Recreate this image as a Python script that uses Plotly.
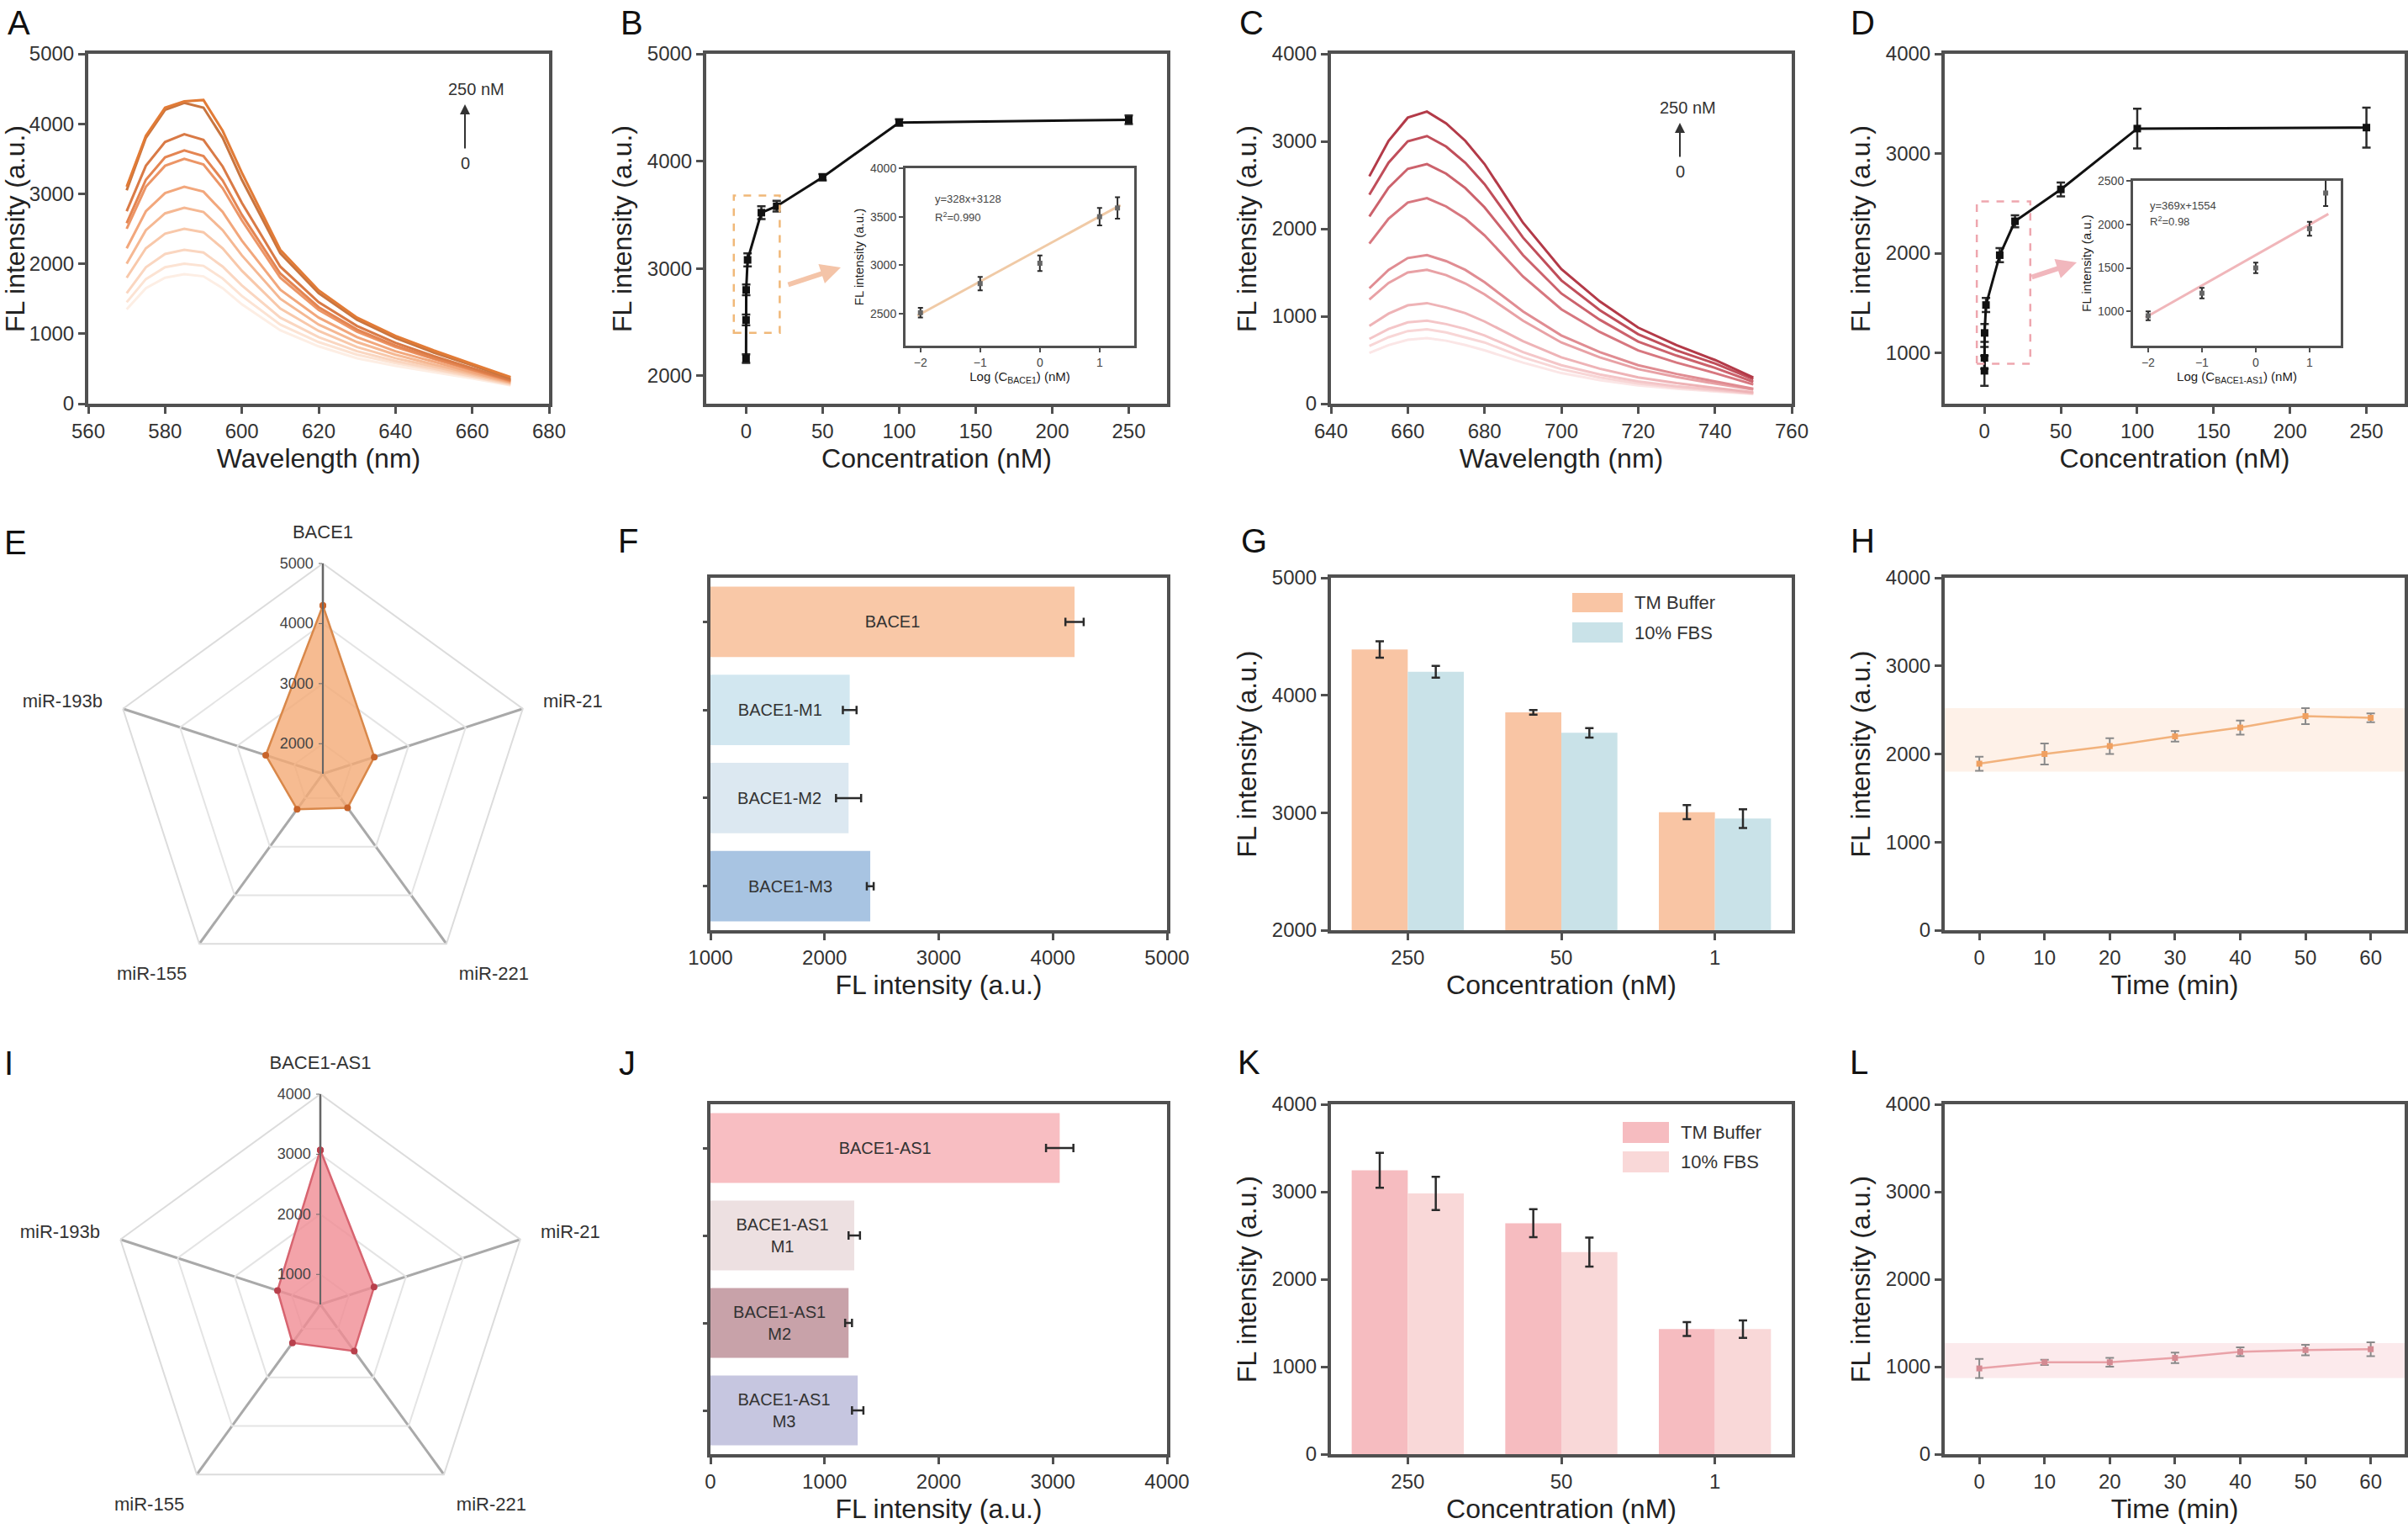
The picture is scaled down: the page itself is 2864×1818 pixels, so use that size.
import plotly.graph_objects as go

W, H = 2864, 1818
AX = '#505050'
FONT = 'Liberation Sans, Arial, sans-serif'

# ---------- A: spectra, BACE1 ----------
a_wl = [570, 575, 580, 585, 590, 595, 600, 610, 620, 630, 640, 650, 660, 670]
a_spectra = [
    [1350, 1650, 1800, 1850, 1820, 1650, 1420, 1050, 820, 650, 540, 450, 360, 260],
    [1450, 1780, 1950, 2000, 1970, 1790, 1540, 1130, 880, 700, 580, 480, 380, 270],
    [1580, 1950, 2140, 2200, 2160, 1960, 1690, 1230, 950, 750, 610, 500, 390, 280],
    [1800, 2220, 2430, 2500, 2450, 2220, 1900, 1360, 1040, 810, 650, 530, 410, 290],
    [2000, 2480, 2720, 2800, 2740, 2480, 2120, 1500, 1130, 880, 700, 560, 430, 300],
    [2220, 2750, 3010, 3100, 3030, 2740, 2330, 1630, 1230, 950, 750, 600, 450, 310],
    [2500, 3100, 3400, 3500, 3420, 3080, 2620, 1800, 1340, 1030, 810, 640, 480, 320],
    [2580, 3200, 3520, 3620, 3540, 3190, 2700, 1860, 1380, 1060, 830, 650, 490, 330],
    [2750, 3400, 3740, 3850, 3770, 3390, 2870, 1960, 1450, 1110, 870, 680, 510, 340],
    [3050, 3800, 4200, 4300, 4230, 3800, 3200, 2150, 1580, 1200, 940, 730, 550, 360],
    [3100, 3830, 4230, 4320, 4340, 3900, 3300, 2200, 1620, 1230, 970, 760, 570, 380],
]
a_colors = ['#fdeee4', '#fce3d3', '#fad6c0', '#f8c8aa', '#f5b893', '#f2a77c',
            '#ec9566', '#e48552', '#d97a46', '#c9753f', '#e27b36']

# ---------- B: BACE1 vs concentration ----------
b_conc = [0, 0.01, 0.1, 1, 10, 20, 50, 100, 250]
b_fl = [2160, 2520, 2800, 3080, 3520, 3580, 3850, 4360, 4385]
b_err = [40, 50, 50, 60, 60, 50, 30, 30, 40]
b_log = [-2, -1, 0, 1, 1.3]
b_in_fl = [2510, 2810, 3020, 3500, 3590]
b_in_err = [50, 70, 80, 90, 110]
b_fit_x = [-2.05, 1.35]
b_fit_y = [2480, 3620]

# ---------- C: spectra, BACE1-AS1 ----------
c_wl = [650, 655, 660, 665, 670, 675, 680, 690, 700, 710, 720, 730, 740, 750]
c_spectra = [
    [580, 670, 730, 750, 720, 670, 610, 470, 350, 270, 210, 170, 140, 110],
    [660, 760, 830, 850, 815, 760, 700, 530, 395, 300, 230, 185, 150, 115],
    [740, 855, 930, 950, 910, 855, 780, 590, 440, 335, 255, 200, 160, 120],
    [890, 1030, 1125, 1150, 1100, 1035, 940, 715, 530, 400, 300, 235, 180, 130],
    [1190, 1380, 1500, 1530, 1470, 1375, 1250, 950, 700, 530, 395, 305, 230, 160],
    [1320, 1530, 1665, 1700, 1630, 1530, 1390, 1055, 780, 590, 440, 340, 255, 170],
    [1830, 2115, 2300, 2350, 2255, 2115, 1925, 1455, 1080, 820, 610, 470, 350, 220],
    [2140, 2470, 2685, 2740, 2630, 2465, 2245, 1700, 1260, 960, 710, 550, 410, 250],
    [2390, 2755, 3000, 3060, 2940, 2755, 2510, 1900, 1410, 1070, 795, 610, 460, 280],
    [2600, 3005, 3270, 3340, 3205, 3005, 2740, 2070, 1540, 1170, 870, 670, 500, 300],
]
c_colors = ['#fbe6e6', '#f8d6d6', '#f4c6c8', '#eeb3b6', '#e8a1a5', '#e08c92',
            '#d7777f', '#cc626c', '#c04e5a', '#b33a48']

# ---------- D: BACE1-AS1 vs concentration ----------
d_conc = [0, 0.01, 0.1, 1, 10, 20, 50, 100, 250]
d_fl = [820, 950, 1200, 1480, 1980, 2320, 2640, 3250, 3260]
d_err = [150, 110, 90, 70, 70, 60, 70, 200, 200]
d_log = [-2, -1, 0, 1, 1.3]
d_in_fl = [950, 1210, 1500, 1950, 2360]
d_in_err = [50, 60, 60, 80, 150]
d_fit_x = [-2.05, 1.35]
d_fit_y = [930, 2120]

# ---------- E / I: radar ----------
e_targets = ['BACE1', 'miR-21', 'miR-221', 'miR-155', 'miR-193b']
e_fl = [4300, 2400, 2200, 2230, 2500]
i_targets = ['BACE1-AS1', 'miR-21', 'miR-221', 'miR-155', 'miR-193b']
i_fl = [3070, 1440, 1460, 1290, 1250]

# ---------- F / J: mismatch bars ----------
f_probes = ['BACE1', 'BACE1-M1', 'BACE1-M2', 'BACE1-M3']
f_fl = [4190, 2220, 2210, 2400]
f_err = [80, 60, 110, 30]
f_base = 1000
f_colors = ['#f9c8a7', '#d2e7f0', '#dce8f1', '#a8c4e2']
j_probes = ['BACE1-AS1', 'BACE1-AS1<br>M1', 'BACE1-AS1<br>M2', 'BACE1-AS1<br>M3']
j_fl = [3060, 1260, 1210, 1290]
j_err = [120, 50, 30, 50]
j_base = 0
j_colors = ['#f8bec2', '#ede0e1', '#c8a2a9', '#c6c6e0']

# ---------- G / K: buffer vs serum ----------
g_conc = ['250', '50', '1']
g_tm = [4390, 3855, 3005]
g_tm_err = [70, 20, 60]
g_fbs = [4200, 3680, 2950]
g_fbs_err = [50, 40, 80]
k_tm = [3245, 2640, 1430]
k_tm_err = [200, 160, 80]
k_fbs = [2980, 2310, 1430]
k_fbs_err = [190, 165, 100]

# ---------- H / L: stability over time ----------
h_time = [0, 10, 20, 30, 40, 50, 60]
h_fl = [1890, 2000, 2090, 2200, 2300, 2430, 2410]
h_err = [80, 120, 90, 60, 80, 90, 50]
h_band = [1800, 2520]
l_fl = [980, 1050, 1050, 1100, 1170, 1190, 1200]
l_err = [110, 30, 50, 60, 50, 60, 80]
l_band = [870, 1270]


def xdom(x0, x1):
    return [x0 / W, x1 / W]


def ydom(y0, y1):
    return [1 - y1 / H, 1 - y0 / H]


def px(x):
    return x / W


def py(y):
    return 1 - y / H


def ax(domain, anchor, rng=None, title='', tsize=32, standoff=10, **kw):
    d = dict(domain=domain, anchor=anchor, showline=True, mirror=True, linewidth=4,
             linecolor=AX, ticks='outside', ticklen=8, tickwidth=2.5, tickcolor=AX,
             showgrid=False, zeroline=False, automargin=False,
             tickfont=dict(size=24, color='#333'),
             title=dict(text=title, font=dict(size=tsize, color='#222'), standoff=standoff))
    if rng is not None:
        d['range'] = rng
    d.update(kw)
    return d


def inset_ax(domain, anchor, rng, title, tickvals):
    return ax(domain, anchor, rng, title, tsize=15, standoff=4, linewidth=3, ticklen=5,
              tickwidth=2, tickvals=tickvals, tickfont=dict(size=14, color='#444'))


def note(fig, text, x, y, size, xanchor='center', color='#333', **kw):
    fig.add_annotation(text=text, x=px(x), y=py(y), xref='paper', yref='paper',
                       xanchor=xanchor, yanchor='middle', showarrow=False,
                       font=dict(size=size, color=color), **kw)


fig = go.Figure()
ERR = dict(type='data', color='#2b2b2b', thickness=2.5, width=5)

# A
for ys, col in zip(a_spectra, a_colors):
    fig.add_trace(go.Scatter(x=a_wl, y=ys, mode='lines', line=dict(color=col, width=3),
                             xaxis='x', yaxis='y'))

# B + inset
fig.add_trace(go.Scatter(x=b_conc, y=b_fl, mode='lines+markers', xaxis='x2', yaxis='y2',
                         line=dict(color='#111', width=3),
                         marker=dict(symbol='square', size=9, color='#111'),
                         error_y=dict(ERR, array=b_err)))
fig.add_trace(go.Scatter(x=b_fit_x, y=b_fit_y, mode='lines', xaxis='x3', yaxis='y3',
                         line=dict(color='#f0caa6', width=3)))
fig.add_trace(go.Scatter(x=b_log, y=b_in_fl, mode='markers', xaxis='x3', yaxis='y3',
                         marker=dict(symbol='square', size=6, color='#666'),
                         error_y=dict(ERR, array=b_in_err, thickness=2, width=3)))

# C
for ys, col in zip(c_spectra, c_colors):
    fig.add_trace(go.Scatter(x=c_wl, y=ys, mode='lines', line=dict(color=col, width=3),
                             xaxis='x4', yaxis='y4'))

# D + inset
fig.add_trace(go.Scatter(x=d_conc, y=d_fl, mode='lines+markers', xaxis='x5', yaxis='y5',
                         line=dict(color='#111', width=3),
                         marker=dict(symbol='square', size=9, color='#111'),
                         error_y=dict(ERR, array=d_err)))
fig.add_trace(go.Scatter(x=d_fit_x, y=d_fit_y, mode='lines', xaxis='x6', yaxis='y6',
                         line=dict(color='#f0b6ba', width=3)))
fig.add_trace(go.Scatter(x=d_log, y=d_in_fl, mode='markers', xaxis='x6', yaxis='y6',
                         marker=dict(symbol='square', size=6, color='#666'),
                         error_y=dict(ERR, array=d_in_err, thickness=2, width=3)))

# E / I radar
fig.add_trace(go.Scatterpolar(r=e_fl + e_fl[:1], theta=e_targets + e_targets[:1],
                              subplot='polar', mode='lines+markers', fill='toself',
                              fillcolor='rgba(244,170,118,0.8)',
                              line=dict(color='#d9884a', width=2.5),
                              marker=dict(size=8, color='#c8642a')))
fig.add_trace(go.Scatterpolar(r=i_fl + i_fl[:1], theta=i_targets + i_targets[:1],
                              subplot='polar2', mode='lines+markers', fill='toself',
                              fillcolor='rgba(240,140,148,0.8)',
                              line=dict(color='#d76470', width=2.5),
                              marker=dict(size=8, color='#b8404c')))

# F / J horizontal bars (drawn from the left edge of the value axis)
for xs, base, ys, errs, cols, xa, ya in [
        (f_fl, f_base, f_probes, f_err, f_colors, 'x7', 'y7'),
        (j_fl, j_base, j_probes, j_err, j_colors, 'x10', 'y10')]:
    fig.add_trace(go.Bar(x=[v - base for v in xs], base=base, y=ys, orientation='h',
                         width=0.8, xaxis=xa, yaxis=ya,
                         marker=dict(color=cols, line=dict(width=0)),
                         text=ys, textposition='inside', insidetextanchor='middle',
                         textangle=0, textfont=dict(size=20, color='#333'),
                         error_x=dict(ERR, array=errs)))

# G / K grouped bars
for tm, tme, fbs, fbse, c1, c2, xa, ya in [
        (g_tm, g_tm_err, g_fbs, g_fbs_err, '#f9c5a4', '#c9e2e8', 'x8', 'y8'),
        (k_tm, k_tm_err, k_fbs, k_fbs_err, '#f6bcc0', '#f9d8d8', 'x11', 'y11')]:
    fig.add_trace(go.Bar(x=g_conc, y=tm, name='TM Buffer', xaxis=xa, yaxis=ya,
                         marker=dict(color=c1, line=dict(width=0)),
                         error_y=dict(ERR, array=tme)))
    fig.add_trace(go.Bar(x=g_conc, y=fbs, name='10% FBS', xaxis=xa, yaxis=ya,
                         marker=dict(color=c2, line=dict(width=0)),
                         error_y=dict(ERR, array=fbse)))

# H / L time course
for ys, errs, lc, mc, xa, ya in [(h_fl, h_err, '#f2b27c', '#f0a060', 'x9', 'y9'),
                                 (l_fl, l_err, '#e9a2a8', '#d48a92', 'x12', 'y12')]:
    fig.add_trace(go.Scatter(x=h_time, y=ys, mode='lines+markers', xaxis=xa, yaxis=ya,
                             line=dict(color=lc, width=2.5),
                             marker=dict(symbol='square', size=7, color=mc),
                             error_y=dict(ERR, array=errs, color='#8a8a8a', thickness=2)))

fig.update_traces(showlegend=False)

# boxes (pixel coordinates of each plotting frame)
A_X, R1_Y = xdom(105, 653), ydom(64, 480)
B_X = xdom(840, 1388)
C_X = xdom(1583, 2131)
D_X = xdom(2313, 2860)
F_X = xdom(845, 1388)
R2_Y = ydom(687, 1106)
R3_Y = ydom(1313, 1729)

layout = dict(
    template='none',
    width=W, height=H, autosize=False, margin=dict(l=0, r=0, t=0, b=0, autoexpand=False),
    paper_bgcolor='white', plot_bgcolor='white',
    font=dict(family=FONT, color='#333'),
    barmode='group', bargap=0.27, bargroupgap=0,
    xaxis=ax(A_X, 'y', [560, 680], 'Wavelength (nm)', dtick=20),
    yaxis=ax(R1_Y, 'x', [0, 5000], 'FL intensity (a.u.)', dtick=1000),
    xaxis2=ax(B_X, 'y2', [-26, 275], 'Concentration (nM)', dtick=50),
    yaxis2=ax(R1_Y, 'x2', [1740, 5000], 'FL intensity (a.u.)', dtick=1000),
    xaxis3=inset_ax(xdom(1077, 1349), 'y3', [-2.25, 1.58],
                    'Log (C<sub>BACE1</sub>) (nM)', [-2, -1, 0, 1]),
    yaxis3=inset_ax(ydom(200, 411), 'x3', [2170, 4000],
                    'FL intensity (a.u.)', [2500, 3000, 3500, 4000]),
    xaxis4=ax(C_X, 'y4', [640, 760], 'Wavelength (nm)', dtick=20),
    yaxis4=ax(R1_Y, 'x4', [0, 4000], 'FL intensity (a.u.)', dtick=1000),
    xaxis5=ax(D_X, 'y5', [-26, 275], 'Concentration (nM)', dtick=50),
    yaxis5=ax(R1_Y, 'x5', [490, 4000], 'FL intensity (a.u.)', dtick=1000),
    xaxis6=inset_ax(xdom(2537, 2784), 'y6', [-2.28, 1.58],
                    'Log (C<sub>BACE1-AS1</sub>) (nM)', [-2, -1, 0, 1]),
    yaxis6=inset_ax(ydom(215, 411), 'x6', [607, 2500],
                    'FL intensity (a.u.)', [1000, 1500, 2000, 2500]),
    xaxis7=ax(F_X, 'y7', [1000, 5000], 'FL intensity (a.u.)', dtick=1000),
    yaxis7=ax(R2_Y, 'x7', None, '', type='category', categoryorder='array',
              categoryarray=f_probes, autorange='reversed', showticklabels=False, ticklen=5),
    xaxis8=ax(C_X, 'y8', [-0.5, 2.5], 'Concentration (nM)', type='category'),
    yaxis8=ax(R2_Y, 'x8', [2000, 5000], 'FL intensity (a.u.)', dtick=1000),
    xaxis9=ax(D_X, 'y9', [-5.3, 65.2], 'Time (min)', dtick=10),
    yaxis9=ax(R2_Y, 'x9', [0, 4000], 'FL intensity (a.u.)', dtick=1000),
    xaxis10=ax(F_X, 'y10', [0, 4000], 'FL intensity (a.u.)', dtick=1000),
    yaxis10=ax(R3_Y, 'x10', None, '', type='category', categoryorder='array',
               categoryarray=j_probes, autorange='reversed', showticklabels=False, ticklen=5),
    xaxis11=ax(C_X, 'y11', [-0.5, 2.5], 'Concentration (nM)', type='category'),
    yaxis11=ax(R3_Y, 'x11', [0, 4000], 'FL intensity (a.u.)', dtick=1000),
    xaxis12=ax(D_X, 'y12', [-5.3, 65.2], 'Time (min)', dtick=10),
    yaxis12=ax(R3_Y, 'x12', [0, 4000], 'FL intensity (a.u.)', dtick=1000),
)


def radar(dom_x, dom_y, cats, rng, ticks):
    return dict(
        domain=dict(x=dom_x, y=dom_y), gridshape='linear', bgcolor='rgba(0,0,0,0)',
        angularaxis=dict(rotation=90, direction='clockwise', categoryorder='array',
                         categoryarray=cats, showline=True, linecolor='#dcdcdc', linewidth=2,
                         showgrid=True, gridcolor='#a9a9a9', gridwidth=2.5,
                         ticks='outside', ticklen=20, tickcolor='rgba(0,0,0,0)',
                         tickfont=dict(size=22, color='#333')),
        radialaxis=dict(range=rng, tickvals=ticks, angle=90, side='counterclockwise',
                        tickangle=90, showline=True, linecolor='#666', linewidth=2,
                        showgrid=True, gridcolor='#e4e4e4', gridwidth=2, ticks='outside',
                        ticklen=4, tickcolor='#666', tickfont=dict(size=18, color='#444')),
    )


layout['polar'] = radar(xdom(134, 634), ydom(670, 1170), e_targets, [1500, 5000],
                        [2000, 3000, 4000, 5000])
layout['polar2'] = radar(xdom(131, 631), ydom(1301, 1801), i_targets, [500, 4000],
                         [1000, 2000, 3000, 4000])
fig.update_layout(**layout)

# panel letters
letters = [('A', 22, 27), ('B', 751, 27), ('C', 1489, 27), ('D', 2215, 27),
           ('E', 18, 645), ('F', 747, 643), ('G', 1491, 643), ('H', 2215, 643),
           ('I', 10, 1264), ('J', 746, 1264), ('K', 1486, 1263), ('L', 2211, 1263)]
for t, x, y in letters:
    note(fig, t, x, y, 40, color='#111')

# concentration arrows in spectra
for x_txt, y_txt, x_arr, y_head, y_zero in [(566, 106, 553, 124, 194),
                                            (2007, 128, 1998, 146, 204)]:
    note(fig, '250 nM', x_txt, y_txt, 20)
    fig.add_annotation(text='', x=px(x_arr), y=py(y_head), xref='paper', yref='paper',
                       ax=0, ay=y_zero - y_head - 16, showarrow=True, arrowhead=2,
                       arrowsize=1.2, arrowwidth=2, arrowcolor='#333')
    note(fig, '0', x_arr, y_zero, 20)

# zoom boxes and arrows toward insets
fig.add_shape(type='rect', xref='x2', yref='y2', x0=-8, x1=22, y0=2400, y1=3680,
              line=dict(color='#f0b878', width=2.5, dash='dash'))
fig.add_shape(type='rect', xref='x5', yref='y5', x0=-5, x1=30, y0=890, y1=2520,
              line=dict(color='#eea6ae', width=2.5, dash='dash'))
fig.add_annotation(text='', x=px(1000), y=py(318), xref='paper', yref='paper',
                   ax=-64, ay=21, showarrow=True, arrowhead=2, arrowsize=0.8,
                   arrowwidth=6, arrowcolor='#f4c4a8')
fig.add_annotation(text='', x=px(2470), y=py(312), xref='paper', yref='paper',
                   ax=-55, ay=18, showarrow=True, arrowhead=2, arrowsize=0.8,
                   arrowwidth=6, arrowcolor='#f1b7bd')

# fit equations
for x, y, txt in [(1110, 237, 'y=328x+3128'), (1110, 258, 'R<sup>2</sup>=0.990'),
                  (2555, 244, 'y=369x+1554'), (2555, 263, 'R<sup>2</sup>=0.98')]:
    note(fig, txt, x, y, 13, xanchor='left', color='#444')

# stability bands
for xa, ya, band, col in [('x9', 'y9', h_band, 'rgba(250,200,165,0.25)'),
                          ('x12', 'y12', l_band, 'rgba(245,170,178,0.25)')]:
    fig.add_shape(type='rect', xref=xa + ' domain', yref=ya, x0=0, x1=1,
                  y0=band[0], y1=band[1], fillcolor=col, line=dict(width=0), layer='below')

# legends drawn by hand (wide swatches as in the original)
for x0, x1, ys, cols in [(1870, 1930, [(705, 728), (740, 764)], ['#f9c5a4', '#c9e2e8']),
                         (1930, 1985, [(1334, 1359), (1369, 1394)], ['#f6bcc0', '#f9d8d8'])]:
    for (y0, y1), col, name in zip(ys, cols, ['TM Buffer', '10% FBS']):
        fig.add_shape(type='rect', xref='paper', yref='paper', x0=px(x0), x1=px(x1),
                      y0=py(y1), y1=py(y0), fillcolor=col, line=dict(width=0))
        note(fig, name, x1 + 12, (y0 + y1) / 2, 22, xanchor='left')

fig.write_html('out.html', config={'displayModeBar': False},
               post_script="document.body.style.margin='0';")
